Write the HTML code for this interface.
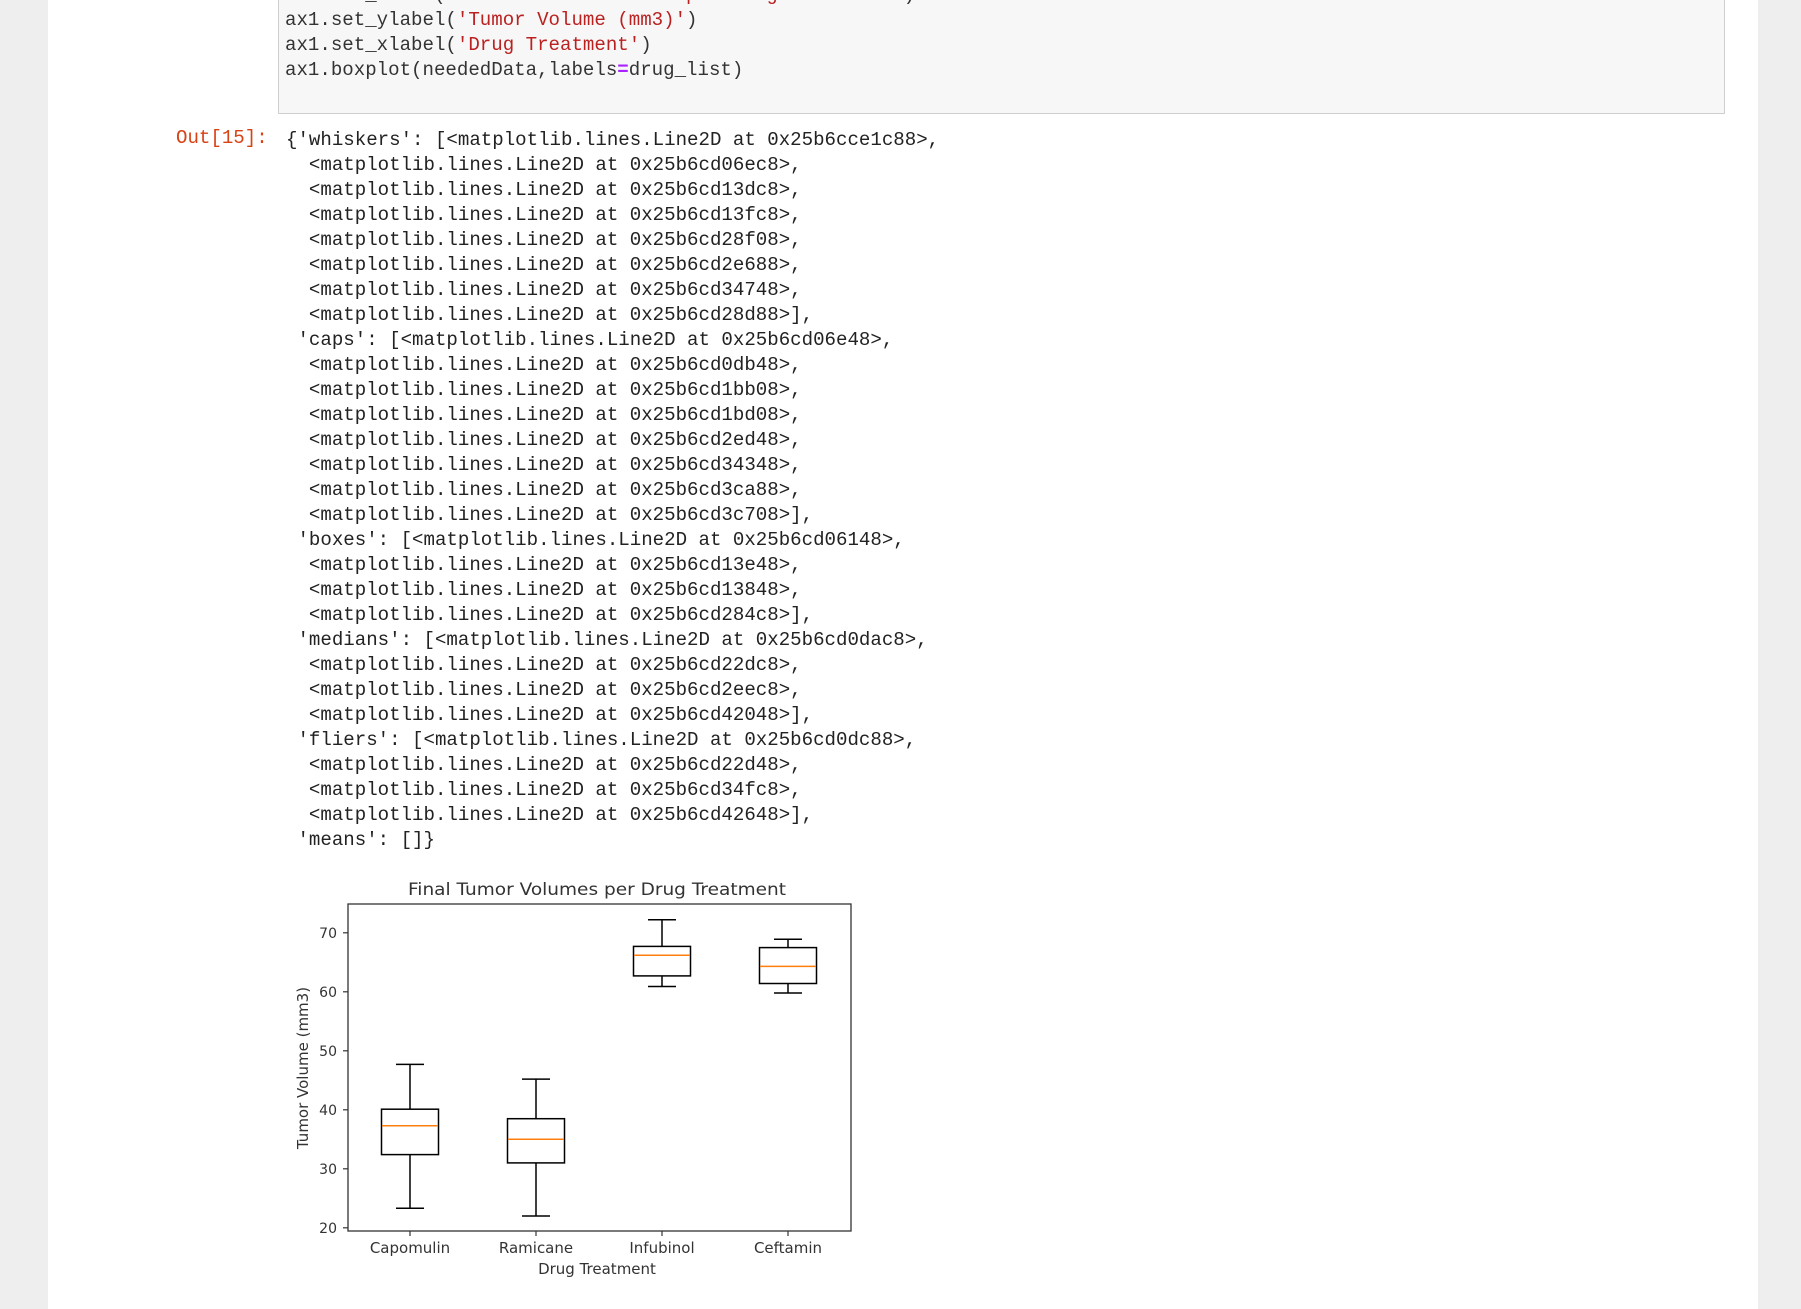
<!DOCTYPE html>
<html><head><meta charset="utf-8"><style>
html,body{margin:0;padding:0;}
body{width:1801px;height:1309px;background:#eeeeee;position:relative;overflow:hidden;font-family:"Liberation Mono",monospace;}
#page{position:absolute;left:48px;top:0;width:1710px;height:1309px;background:#fff;}
#code{position:absolute;left:278px;top:-10px;width:1447px;height:124px;background:#f7f7f7;border:1px solid #cfcfcf;box-sizing:border-box;}
.ln{position:absolute;font-size:19.1px;line-height:25px;color:#333;white-space:pre;}
.s{color:#ba2121}.o{color:#aa22ff;font-weight:bold}
#out{position:absolute;left:176px;top:126px;font-size:19.1px;line-height:25px;color:#d84315;}
#res{position:absolute;left:286px;top:128px;font-size:19.1px;line-height:25px;color:#222;white-space:pre;margin:0;font-family:"Liberation Mono",monospace;}
svg{position:absolute;left:0;top:0;}
</style></head><body>
<div id="page"></div>
<div id="code"></div>
<div class="ln" style="left:285px;top:-17px">ax1.set_title(<span class="s">'Final Tumor Volumes per Drug Treatment'</span>)</div>
<div class="ln" style="left:285px;top:8px">ax1.set_ylabel(<span class="s">'Tumor Volume (mm3)'</span>)</div>
<div class="ln" style="left:285px;top:33px">ax1.set_xlabel(<span class="s">'Drug Treatment'</span>)</div>
<div class="ln" style="left:285px;top:58px">ax1.boxplot(neededData,labels<span class="o">=</span>drug_list)</div>
<div id="out">Out[15]:</div>
<pre id="res">{'whiskers': [&lt;matplotlib.lines.Line2D at 0x25b6cce1c88&gt;,
  &lt;matplotlib.lines.Line2D at 0x25b6cd06ec8&gt;,
  &lt;matplotlib.lines.Line2D at 0x25b6cd13dc8&gt;,
  &lt;matplotlib.lines.Line2D at 0x25b6cd13fc8&gt;,
  &lt;matplotlib.lines.Line2D at 0x25b6cd28f08&gt;,
  &lt;matplotlib.lines.Line2D at 0x25b6cd2e688&gt;,
  &lt;matplotlib.lines.Line2D at 0x25b6cd34748&gt;,
  &lt;matplotlib.lines.Line2D at 0x25b6cd28d88&gt;],
 'caps': [&lt;matplotlib.lines.Line2D at 0x25b6cd06e48&gt;,
  &lt;matplotlib.lines.Line2D at 0x25b6cd0db48&gt;,
  &lt;matplotlib.lines.Line2D at 0x25b6cd1bb08&gt;,
  &lt;matplotlib.lines.Line2D at 0x25b6cd1bd08&gt;,
  &lt;matplotlib.lines.Line2D at 0x25b6cd2ed48&gt;,
  &lt;matplotlib.lines.Line2D at 0x25b6cd34348&gt;,
  &lt;matplotlib.lines.Line2D at 0x25b6cd3ca88&gt;,
  &lt;matplotlib.lines.Line2D at 0x25b6cd3c708&gt;],
 'boxes': [&lt;matplotlib.lines.Line2D at 0x25b6cd06148&gt;,
  &lt;matplotlib.lines.Line2D at 0x25b6cd13e48&gt;,
  &lt;matplotlib.lines.Line2D at 0x25b6cd13848&gt;,
  &lt;matplotlib.lines.Line2D at 0x25b6cd284c8&gt;],
 'medians': [&lt;matplotlib.lines.Line2D at 0x25b6cd0dac8&gt;,
  &lt;matplotlib.lines.Line2D at 0x25b6cd22dc8&gt;,
  &lt;matplotlib.lines.Line2D at 0x25b6cd2eec8&gt;,
  &lt;matplotlib.lines.Line2D at 0x25b6cd42048&gt;],
 'fliers': [&lt;matplotlib.lines.Line2D at 0x25b6cd0dc88&gt;,
  &lt;matplotlib.lines.Line2D at 0x25b6cd22d48&gt;,
  &lt;matplotlib.lines.Line2D at 0x25b6cd34fc8&gt;,
  &lt;matplotlib.lines.Line2D at 0x25b6cd42648&gt;],
 'means': []}</pre>
<svg width="1801" height="1309" font-family="'DejaVu Sans','Liberation Sans',sans-serif" fill="#333">
<text x="597" y="895" font-size="17" text-anchor="middle" textLength="378" lengthAdjust="spacingAndGlyphs">Final Tumor Volumes per Drug Treatment</text>
<rect x="348" y="904" width="503" height="327" fill="none" stroke="#333" stroke-width="1.3"/>
<g stroke="#333" stroke-width="1.2">
<line x1="343" y1="932.8" x2="348" y2="932.8"/><line x1="343" y1="991.8" x2="348" y2="991.8"/>
<line x1="343" y1="1050.8" x2="348" y2="1050.8"/><line x1="343" y1="1109.8" x2="348" y2="1109.8"/>
<line x1="343" y1="1168.8" x2="348" y2="1168.8"/><line x1="343" y1="1227.8" x2="348" y2="1227.8"/>
<line x1="410" y1="1231" x2="410" y2="1236"/><line x1="536" y1="1231" x2="536" y2="1236"/>
<line x1="662" y1="1231" x2="662" y2="1236"/><line x1="788" y1="1231" x2="788" y2="1236"/>
</g>
<g font-size="14" text-anchor="end">
<text x="337" y="938">70</text><text x="337" y="997">60</text><text x="337" y="1056">50</text>
<text x="337" y="1115">40</text><text x="337" y="1174">30</text><text x="337" y="1233">20</text>
</g>
<g font-size="15" text-anchor="middle">
<text x="410" y="1253">Capomulin</text><text x="536" y="1253">Ramicane</text>
<text x="662" y="1253">Infubinol</text><text x="788" y="1253">Ceftamin</text>
<text x="597" y="1274">Drug Treatment</text>
<text transform="translate(308,1068) rotate(-90)">Tumor Volume (mm3)</text>
</g>
<g stroke="#000" stroke-width="1.5" fill="none">
<line x1="410" y1="1154.6" x2="410" y2="1208.3"/><line x1="410" y1="1064.4" x2="410" y2="1109.2"/>
<line x1="396" y1="1208.3" x2="424" y2="1208.3"/><line x1="396" y1="1064.4" x2="424" y2="1064.4"/>
<rect x="381.5" y="1109.2" width="57" height="45.4"/>

<line x1="536" y1="1162.9" x2="536" y2="1216"/><line x1="536" y1="1079.1" x2="536" y2="1118.7"/>
<line x1="522" y1="1216" x2="550" y2="1216"/><line x1="522" y1="1079.1" x2="550" y2="1079.1"/>
<rect x="507.5" y="1118.7" width="57" height="44.2"/>

<line x1="662" y1="975.9" x2="662" y2="986.5"/><line x1="662" y1="919.8" x2="662" y2="946.4"/>
<line x1="648" y1="986.5" x2="676" y2="986.5"/><line x1="648" y1="919.8" x2="676" y2="919.8"/>
<rect x="633.5" y="946.4" width="57" height="29.5"/>

<line x1="788" y1="983.5" x2="788" y2="993"/><line x1="788" y1="939.3" x2="788" y2="947.6"/>
<line x1="774" y1="993" x2="802" y2="993"/><line x1="774" y1="939.3" x2="802" y2="939.3"/>
<rect x="759.5" y="947.6" width="57" height="35.9"/>
</g>
<g stroke="#ff7f0e" stroke-width="1.5">
<line x1="382" y1="1125.7" x2="438" y2="1125.7"/>
<line x1="508" y1="1139.3" x2="564" y2="1139.3"/>
<line x1="634" y1="955.2" x2="690" y2="955.2"/>
<line x1="760" y1="966.4" x2="816" y2="966.4"/>
</g>
</svg>
</body></html>
